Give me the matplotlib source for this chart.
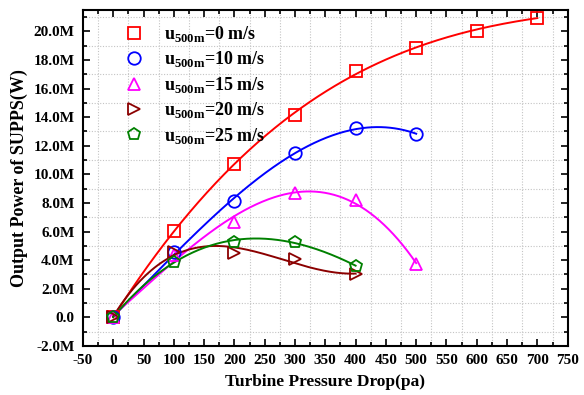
import numpy as np
import matplotlib
matplotlib.use('Agg')
import matplotlib.pyplot as plt
from matplotlib.ticker import MultipleLocator, FuncFormatter

plt.rcParams['font.family'] = ['Liberation Serif', 'DejaVu Serif']
plt.rcParams['font.weight'] = 'bold'
plt.rcParams['mathtext.fontset'] = 'custom'
plt.rcParams['mathtext.rm'] = 'Liberation Serif:bold'
plt.rcParams['axes.unicode_minus'] = False

# turbine pressure drop (pa)
x0 = [0, 100, 200, 300, 400, 500, 600, 700]
x10 = [0, 100, 200, 300, 400, 500]
x15 = [0, 100, 200, 300, 400, 500]
x20 = [0, 100, 200, 300, 400]
x25 = [0, 100, 200, 300, 400]

# output power (W)
p0 = [0.0, 6.03e6, 10.75e6, 14.15e6, 17.2e6, 18.86e6, 20.05e6, 20.96e6]
p10 = [0.0, 4.6e6, 8.13e6, 11.5e6, 13.26e6, 12.8e6]
p15 = [0.0, 4.35e6, 6.66e6, 8.7e6, 8.2e6, 3.7e6]
p20 = [0.0, 4.6e6, 4.5e6, 4.05e6, 3.0e6]
p25 = [0.0, 3.9e6, 5.3e6, 5.27e6, 3.6e6]

speeds = ['0', '10', '15', '20', '25']
colors = ['#ff0000', '#0000ff', '#ff00ff', '#8b0000', '#008000']
markers = ['s', 'o', '^', '>', 'p']

fig = plt.figure(figsize=(5.84, 3.95), dpi=100)
ax = fig.add_axes([0.142, 0.124, 0.83, 0.851])

# offset dotted grid like the original
for gx in np.arange(-25, 750, 50):
    ax.axvline(gx, color='#c4c4c4', ls=(0, (1, 1.5)), lw=0.8, zorder=0)
for gy in np.arange(-1e6, 21.5e6, 2e6):
    ax.axhline(gy, color='#c4c4c4', ls=(0, (1, 1.5)), lw=0.8, zorder=0)

series = [(x0, p0), (x10, p10), (x15, p15), (x20, p20), (x25, p25)]
for (xs, ps), c, m, s in zip(series, colors, markers, speeds):
    xs = np.array(xs, dtype=float)
    ps = np.array(ps)
    coef = np.polyfit(xs, ps, 3)
    xf = np.linspace(xs[0], xs[-1], 200)
    ax.plot(xf, np.polyval(coef, xf), color=c, lw=1.4, zorder=2)
    ax.plot(xs, ps, ls='none', marker=m, ms=9, mfc='none', mec=c, mew=1.3,
            label=r'u$_{\mathregular{500m}}$=' + s + ' m/s', zorder=3)

ax.set_xlim(-50, 750)
ax.set_ylim(-2e6, 21.5e6)
ax.xaxis.set_major_locator(MultipleLocator(50))
ax.xaxis.set_minor_locator(MultipleLocator(25))
ax.yaxis.set_major_locator(MultipleLocator(2e6))
ax.yaxis.set_minor_locator(MultipleLocator(1e6))


def fmt(v, pos):
    if abs(v) < 1:
        return '0.0'
    return '%.1fM' % (v / 1e6)


ax.yaxis.set_major_formatter(FuncFormatter(fmt))
ax.tick_params(which='both', direction='in', top=True, right=True, labelsize=11, width=1.2)
ax.tick_params(which='major', length=5, pad=6)
ax.tick_params(which='minor', length=3)
for sp in ax.spines.values():
    sp.set_linewidth(1.5)

ax.set_xlabel('Turbine Pressure Drop(pa)', fontsize=12.5, fontweight='bold', labelpad=5)
ax.set_ylabel('Output Power of SUPPS(W)', fontsize=13, fontweight='bold')

ax.legend(loc='upper left', bbox_to_anchor=(0.045, 0.99), frameon=False, fontsize=13,
          handletextpad=0.7, labelspacing=0.3, borderaxespad=0.2)

fig.savefig('out.png', dpi=100)
